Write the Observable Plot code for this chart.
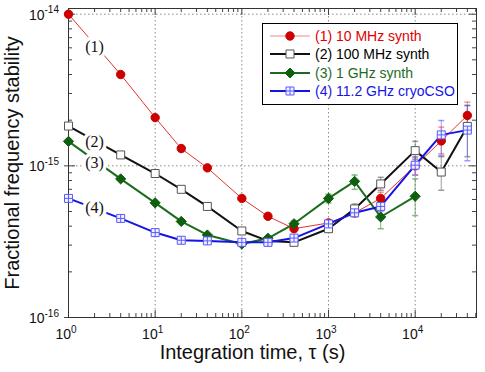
<!DOCTYPE html>
<html><head><meta charset="utf-8">
<script src="https://cdn.jsdelivr.net/npm/d3@7"></script>
<script src="https://cdn.jsdelivr.net/npm/@observablehq/plot@0.6"></script>
<style>
body{margin:0;background:#fff;}
#wrap{position:relative;width:485px;height:372px;font-family:"Liberation Sans",Arial,sans-serif;}
#legend{position:absolute;left:262px;top:23px;width:196px;height:82px;border:1.5px solid #000;background:#fff;box-sizing:border-box;padding-top:3px;}
#legend .row{height:18.3px;display:flex;align-items:center;font-size:14px;white-space:nowrap;}
#legend svg{margin-left:7px;margin-right:5px;}
</style></head>
<body><div id="wrap"><div id="legend"></div></div>
<script>
// ---- data ----
const tau = [1, 4, 10, 20, 40, 100, 200, 400, 1000, 2000, 4000, 10000, 20000, 40000];
const seriesNames = ["(1) 10 MHz synth", "(2) 100 MHz synth", "(3) 1 GHz synth", "(4) 11.2 GHz cryoCSO"];
const s1 = [1.0e-14, 4.0e-15, 2.08e-15, 1.30e-15, 9.7e-16, 6.1e-16, 4.65e-16, 3.85e-16, 4.2e-16, 4.9e-16, 6.1e-16, 1.0e-15, 1.46e-15, 2.15e-15];
const s2 = [1.83e-15, 1.18e-15, 8.9e-16, 7.0e-16, 5.4e-16, 3.72e-16, 3.2e-16, 3.13e-16, 3.85e-16, 5.2e-16, 7.6e-16, 1.26e-15, 9.1e-16, 1.82e-15];
const s3 = [1.45e-15, 8.2e-16, 5.7e-16, 4.3e-16, 3.5e-16, 3.05e-16, 3.33e-16, 4.15e-16, 6.1e-16, 7.9e-16, 4.6e-16, 6.3e-16];
const s4 = [6.1e-16, 4.5e-16, 3.63e-16, 3.23e-16, 3.2e-16, 3.13e-16, 3.13e-16, 3.34e-16, 4.14e-16, 4.9e-16, 5.4e-16, 1.01e-15, 1.6e-15, 1.72e-15];
// error bars (tau, low, high)
const errTau1 = [1000, 2000, 4000, 10000, 20000, 40000];
const errLo1  = [4.0e-16, 4.6e-16, 5.6e-16, 8.7e-16, 1.2e-15, 1.9e-15];
const errHi1  = [4.4e-16, 5.2e-16, 6.7e-16, 1.13e-15, 1.8e-15, 2.63e-15];
const errTau2 = [1000, 2000, 4000, 10000, 20000, 40000];
const errLo2  = [3.7e-16, 4.7e-16, 6.9e-16, 1.1e-15, 6.9e-16, 1.15e-15];
const errHi2  = [4.0e-16, 5.6e-16, 8.4e-16, 1.45e-15, 1.15e-15, 2.5e-15];
const errTau3 = [400, 1000, 2000, 4000, 10000];
const errLo3  = [3.95e-16, 5.7e-16, 7.0e-16, 3.85e-16, 4.7e-16];
const errHi3  = [4.35e-16, 6.5e-16, 8.7e-16, 5.2e-16, 8.2e-16];
const errTau4 = [1000, 2000, 4000, 10000, 20000, 40000];
const errLo4  = [3.95e-16, 4.7e-16, 5.0e-16, 8.7e-16, 1.17e-15, 1.08e-15];
const errHi4  = [4.35e-16, 5.1e-16, 5.8e-16, 1.15e-15, 1.99e-15, 2.5e-15];
// in-plot labels
const labelText = ["(1)", "(2)", "(3)", "(4)"];
const labelTau = [2, 2, 2, 2];
const labelY = [6.08e-15, 1.43e-15, 1.04e-15, 5.28e-16];
// axes
const xDomain = [1, 5.1e4];
const yDomain = [1e-16, 1.09e-14];
const xMajor = [1, 10, 100, 1000, 10000];
const yMajor = [1e-16, 1e-15, 1e-14];
const tickBase = "10";
const xExp = ["0", "1", "2", "3", "4"];
const yExp = ["-16", "-15", "-14"];
const xTitle = "Integration time, τ (s)";
const yTitle = "Fractional frequency stability";

// ---- layout / style ----
const W = 485, H = 372, mL = 68, mR = 9, mT = 8, mB = 55;
const FW = W - mL - mR, FH = H - mT - mB;
const styles = [
  {line: "#e23232", width: 1, symbol: "circle", fill: "#cc0000", stroke: "#cc0000", err: "rgba(225,70,70,0.55)", text: "#e00000"},
  {line: "#111111", width: 2, symbol: "square", fill: "#ffffff", stroke: "#555555", err: "rgba(90,90,90,0.6)", text: "#000000"},
  {line: "#1d6b1d", width: 2, symbol: "diamond2", fill: "#0f5f0f", stroke: "#0f5f0f", err: "rgba(40,120,40,0.55)", text: "#1d6b1d"},
  {line: "#1414e6", width: 2, symbol: "square", fill: "#f2f2ff", stroke: "#5a5aff", err: "rgba(80,80,255,0.55)", text: "#1414e6"}
];
const plusSym = {draw(ctx, size) { const w = Math.sqrt(size) / 2; ctx.moveTo(-w, 0); ctx.lineTo(w, 0); ctx.moveTo(0, -w); ctx.lineTo(0, w); }};
const capSym = {draw(ctx, size) { const w = Math.sqrt(size) / 2; ctx.moveTo(-w, 0); ctx.lineTo(w, 0); }};

const series = [s1, s2, s3, s4].map(s => s.map((v, i) => ({tau: tau[i], y: v})));
const errs = [[errTau1, errLo1, errHi1], [errTau2, errLo2, errHi2], [errTau3, errLo3, errHi3], [errTau4, errLo4, errHi4]]
  .map(([t, lo, hi]) => t.map((v, i) => ({tau: v, lo: lo[i], hi: hi[i]})));

const xMinor = [], yMinor = [];
for (const d of [1, 10, 100, 1000, 10000]) for (let k = 2; k <= 9; k++) if (d * k <= xDomain[1]) xMinor.push(d * k);
for (const d of [1e-16, 1e-15]) for (let k = 2; k <= 9; k++) yMinor.push(d * k);
const xGrid = xMajor.slice(1), yGrid = yMajor.slice(1);

const marks = [
  Plot.ruleX(xGrid, {x: d => d, stroke: "#8a8a8a", strokeDasharray: "1.5,2.5"}),
  Plot.ruleY(yGrid, {y: d => d, stroke: "#8a8a8a", strokeDasharray: "1.5,2.5"}),
  Plot.ruleX(xMinor, {x: d => d, insetTop: FH - 4, stroke: "#444"}),
  Plot.ruleX(xMinor, {x: d => d, insetBottom: FH - 4, stroke: "#444"}),
  Plot.ruleX(xMajor, {x: d => d, insetTop: FH - 7, stroke: "#444"}),
  Plot.ruleX(xMajor, {x: d => d, insetBottom: FH - 7, stroke: "#444"}),
  Plot.ruleY(yMinor, {y: d => d, insetRight: FW - 4, stroke: "#444"}),
  Plot.ruleY(yMinor, {y: d => d, insetLeft: FW - 4, stroke: "#444"}),
  Plot.ruleY(yMajor, {y: d => d, insetRight: FW - 7, insetLeft: -4, stroke: "#444"}),
  Plot.ruleY(yMajor, {y: d => d, insetLeft: FW - 7, stroke: "#444"}),
  Plot.frame({stroke: "#333"})
];
errs.forEach((e, i) => {
  const st = styles[i];
  marks.push(Plot.ruleX(e, {x: "tau", y1: "lo", y2: "hi", stroke: st.err}));
  marks.push(Plot.dot(e, {x: "tau", y: "lo", symbol: capSym, r: 3.4, stroke: st.err, fill: "none"}));
  marks.push(Plot.dot(e, {x: "tau", y: "hi", symbol: capSym, r: 3.4, stroke: st.err, fill: "none"}));
});
series.forEach((s, i) => {
  const st = styles[i];
  marks.push(Plot.line(s, {x: "tau", y: "y", stroke: st.line, strokeWidth: st.width}));
});
series.forEach((s, i) => {
  const st = styles[i];
  const r = st.symbol === "circle" ? 4.2 : st.symbol === "diamond2" ? 4.6 : 4.5;
  marks.push(Plot.dot(s, {x: "tau", y: "y", symbol: st.symbol, r, fill: st.fill, stroke: st.stroke, strokeWidth: 1}));
  if (i === 3) marks.push(Plot.dot(s, {x: "tau", y: "y", symbol: plusSym, r: 4.5, stroke: st.stroke, fill: "none", strokeWidth: 1}));
});
marks.push(Plot.text(labelText.map((t, i) => ({t, x: labelTau[i], y: labelY[i]})), {
  x: "x", y: "y", text: "t", fontFamily: "Liberation Serif, Times New Roman, serif", fontSize: 16,
  fill: "#111", stroke: "white", strokeWidth: 7
}));
// tick labels: base "10" and raised exponent, anchored to the axis through the scales
marks.push(Plot.text(xMajor, {x: d => d, y: () => yDomain[0], dy: 17, dx: 2.5, textAnchor: "end", text: () => tickBase, fontSize: 14, fill: "#111"}));
marks.push(Plot.text(xMajor, {x: d => d, y: () => yDomain[0], dy: 12, dx: 2.5, textAnchor: "start", text: (d, i) => xExp[i], fontSize: 10, fill: "#111"}));
marks.push(Plot.text(yMajor, {y: d => d, x: () => xDomain[0], dx: -24, dy: 1, textAnchor: "end", text: () => tickBase, fontSize: 14, fill: "#111"}));
marks.push(Plot.text(yMajor, {y: d => d, x: () => xDomain[0], dx: -24, dy: -4, textAnchor: "start", text: (d, i) => yExp[i], fontSize: 10, fill: "#111"}));
marks.push(Plot.text([xTitle], {frameAnchor: "bottom", dy: 41, dx: -20, textAnchor: "middle", text: d => d, fontSize: 20, fill: "#111"}));
marks.push(Plot.text([yTitle], {frameAnchor: "left", dx: -56, textAnchor: "middle", rotate: -90, text: d => d, fontSize: 20, fill: "#111"}));

const plot = Plot.plot({
  width: W, height: H, marginLeft: mL, marginRight: mR, marginTop: mT, marginBottom: mB,
  x: {type: "log", domain: xDomain},
  y: {type: "log", domain: yDomain},
  axis: null,
  style: {fontFamily: "Liberation Sans, Arial, sans-serif", background: "white", overflow: "visible"},
  marks
});
const wrap = document.getElementById("wrap");
wrap.insertBefore(plot, wrap.firstChild);

// legend
const legend = document.getElementById("legend");
seriesNames.forEach((name, i) => {
  const st = styles[i];
  const row = document.createElement("div");
  row.className = "row";
  const svg = d3.create("svg").attr("width", 40).attr("height", 14);
  svg.append("line").attr("x1", 0).attr("x2", 40).attr("y1", 7).attr("y2", 7).attr("stroke", i === 0 ? "#eb8a8a" : st.line).attr("stroke-width", st.width);
  const symMap = {circle: d3.symbolCircle, square: d3.symbolSquare, diamond2: d3.symbolDiamond2};
  const rr = st.symbol === "circle" ? 4.2 : 4.5;
  svg.append("path").attr("transform", "translate(20,7)").attr("d", d3.symbol(symMap[st.symbol], Math.PI * rr * rr)())
    .attr("fill", st.fill).attr("stroke", st.stroke);
  if (i === 3) svg.append("path").attr("transform", "translate(20,7)").attr("d", d3.symbol(plusSym, Math.PI * 4.5 * 4.5)()).attr("stroke", st.stroke).attr("fill", "none");
  row.appendChild(svg.node());
  const span = document.createElement("span");
  span.textContent = name;
  span.style.color = st.text;
  row.appendChild(span);
  legend.appendChild(row);
});
</script></body></html>
